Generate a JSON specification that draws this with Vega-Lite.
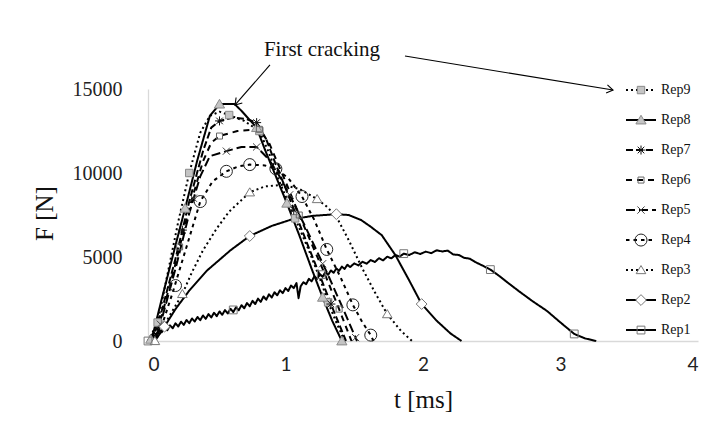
{
  "$schema": "https://vega.github.io/schema/vega-lite/v6.json",
  "width": 550,
  "height": 252,
  "autosize": {"type": "none"},
  "padding": {"left": 148, "top": 89, "right": 24, "bottom": 98},
  "background": "white",
  "config": {"view": {"stroke": null}, "font": "Liberation Serif"},
  "datasets": {
    "curves": [
      {"s":"Rep9","t":0,"F":0},{"s":"Rep9","t":0.07,"F":1100},{"s":"Rep9","t":0.15,"F":4300},{"s":"Rep9","t":0.22,"F":7100},{"s":"Rep9","t":0.3,"F":10000},{"s":"Rep9","t":0.38,"F":12400},{"s":"Rep9","t":0.45,"F":13400},{"s":"Rep9","t":0.52,"F":13650},{"s":"Rep9","t":0.59,"F":13450},{"s":"Rep9","t":0.7,"F":13100},{"s":"Rep9","t":0.81,"F":12500},{"s":"Rep9","t":0.88,"F":11200},{"s":"Rep9","t":0.95,"F":9600},{"s":"Rep9","t":1.07,"F":7300},{"s":"Rep9","t":1.17,"F":5400},{"s":"Rep9","t":1.26,"F":3500},{"s":"Rep9","t":1.31,"F":2300},{"s":"Rep9","t":1.37,"F":1100},{"s":"Rep9","t":1.43,"F":0},
      {"s":"Rep8","t":0,"F":0},{"s":"Rep8","t":0.03,"F":200},{"s":"Rep8","t":0.1,"F":2500},{"s":"Rep8","t":0.2,"F":5700},{"s":"Rep8","t":0.27,"F":7900},{"s":"Rep8","t":0.36,"F":10800},{"s":"Rep8","t":0.45,"F":13400},{"s":"Rep8","t":0.52,"F":14100},{"s":"Rep8","t":0.63,"F":14100},{"s":"Rep8","t":0.68,"F":13700},{"s":"Rep8","t":0.79,"F":12700},{"s":"Rep8","t":0.85,"F":11400},{"s":"Rep8","t":0.93,"F":9800},{"s":"Rep8","t":1.01,"F":8200},{"s":"Rep8","t":1.1,"F":6300},{"s":"Rep8","t":1.19,"F":4300},{"s":"Rep8","t":1.27,"F":2600},{"s":"Rep8","t":1.34,"F":1200},{"s":"Rep8","t":1.41,"F":0},
      {"s":"Rep7","t":0.03,"F":0},{"s":"Rep7","t":0.1,"F":1800},{"s":"Rep7","t":0.2,"F":4900},{"s":"Rep7","t":0.3,"F":8300},{"s":"Rep7","t":0.4,"F":11300},{"s":"Rep7","t":0.46,"F":12700},{"s":"Rep7","t":0.52,"F":13100},{"s":"Rep7","t":0.62,"F":13300},{"s":"Rep7","t":0.72,"F":13200},{"s":"Rep7","t":0.79,"F":13000},{"s":"Rep7","t":0.86,"F":12000},{"s":"Rep7","t":0.93,"F":10500},{"s":"Rep7","t":1.0,"F":9100},{"s":"Rep7","t":1.1,"F":7000},{"s":"Rep7","t":1.24,"F":4100},{"s":"Rep7","t":1.35,"F":1800},{"s":"Rep7","t":1.44,"F":0},
      {"s":"Rep6","t":0.04,"F":0},{"s":"Rep6","t":0.1,"F":1500},{"s":"Rep6","t":0.2,"F":4600},{"s":"Rep6","t":0.3,"F":7900},{"s":"Rep6","t":0.4,"F":10700},{"s":"Rep6","t":0.46,"F":11800},{"s":"Rep6","t":0.52,"F":12200},{"s":"Rep6","t":0.65,"F":12500},{"s":"Rep6","t":0.81,"F":12600},{"s":"Rep6","t":0.88,"F":11800},{"s":"Rep6","t":1.0,"F":9500},{"s":"Rep6","t":1.1,"F":7500},{"s":"Rep6","t":1.2,"F":5600},{"s":"Rep6","t":1.28,"F":4100},{"s":"Rep6","t":1.38,"F":2100},{"s":"Rep6","t":1.48,"F":0},
      {"s":"Rep5","t":0.05,"F":0},{"s":"Rep5","t":0.1,"F":1300},{"s":"Rep5","t":0.2,"F":4300},{"s":"Rep5","t":0.3,"F":7600},{"s":"Rep5","t":0.38,"F":9800},{"s":"Rep5","t":0.45,"F":11000},{"s":"Rep5","t":0.57,"F":11300},{"s":"Rep5","t":0.68,"F":11550},{"s":"Rep5","t":0.79,"F":11550},{"s":"Rep5","t":0.88,"F":10800},{"s":"Rep5","t":0.95,"F":9900},{"s":"Rep5","t":1.03,"F":8700},{"s":"Rep5","t":1.15,"F":6700},{"s":"Rep5","t":1.3,"F":4100},{"s":"Rep5","t":1.42,"F":1900},{"s":"Rep5","t":1.52,"F":0},
      {"s":"Rep4","t":0.05,"F":0},{"s":"Rep4","t":0.1,"F":900},{"s":"Rep4","t":0.18,"F":2900},{"s":"Rep4","t":0.28,"F":5600},{"s":"Rep4","t":0.38,"F":8300},{"s":"Rep4","t":0.47,"F":9500},{"s":"Rep4","t":0.57,"F":10100},{"s":"Rep4","t":0.66,"F":10400},{"s":"Rep4","t":0.74,"F":10500},{"s":"Rep4","t":0.85,"F":10450},{"s":"Rep4","t":0.93,"F":10250},{"s":"Rep4","t":1.02,"F":9700},{"s":"Rep4","t":1.12,"F":8600},{"s":"Rep4","t":1.21,"F":7200},{"s":"Rep4","t":1.3,"F":5450},{"s":"Rep4","t":1.4,"F":3800},{"s":"Rep4","t":1.49,"F":2150},{"s":"Rep4","t":1.56,"F":1100},{"s":"Rep4","t":1.62,"F":350},{"s":"Rep4","t":1.64,"F":0},
      {"s":"Rep3","t":0.05,"F":0},{"s":"Rep3","t":0.15,"F":1400},{"s":"Rep3","t":0.25,"F":2800},{"s":"Rep3","t":0.32,"F":4100},{"s":"Rep3","t":0.4,"F":5400},{"s":"Rep3","t":0.5,"F":6700},{"s":"Rep3","t":0.59,"F":7700},{"s":"Rep3","t":0.74,"F":8850},{"s":"Rep3","t":0.85,"F":9200},{"s":"Rep3","t":0.98,"F":9300},{"s":"Rep3","t":1.1,"F":9050},{"s":"Rep3","t":1.23,"F":8450},{"s":"Rep3","t":1.3,"F":8000},{"s":"Rep3","t":1.37,"F":7400},{"s":"Rep3","t":1.46,"F":6000},{"s":"Rep3","t":1.56,"F":4300},{"s":"Rep3","t":1.65,"F":2900},{"s":"Rep3","t":1.74,"F":1600},{"s":"Rep3","t":1.84,"F":600},{"s":"Rep3","t":1.92,"F":0},
      {"s":"Rep2","t":0.05,"F":0},{"s":"Rep2","t":0.1,"F":600},{"s":"Rep2","t":0.2,"F":1900},{"s":"Rep2","t":0.3,"F":3000},{"s":"Rep2","t":0.43,"F":4200},{"s":"Rep2","t":0.6,"F":5400},{"s":"Rep2","t":0.74,"F":6250},{"s":"Rep2","t":0.9,"F":6850},{"s":"Rep2","t":1.05,"F":7250},{"s":"Rep2","t":1.2,"F":7450},{"s":"Rep2","t":1.37,"F":7550},{"s":"Rep2","t":1.46,"F":7500},{"s":"Rep2","t":1.55,"F":7200},{"s":"Rep2","t":1.62,"F":6800},{"s":"Rep2","t":1.7,"F":6300},{"s":"Rep2","t":1.8,"F":5100},{"s":"Rep2","t":1.9,"F":3600},{"s":"Rep2","t":1.99,"F":2200},{"s":"Rep2","t":2.1,"F":1200},{"s":"Rep2","t":2.2,"F":450},{"s":"Rep2","t":2.28,"F":0},
      {"s":"Rep1","t":0,"F":0},{"s":"Rep1","t":0.02,"F":250},{"s":"Rep1","t":0.04,"F":500},{"s":"Rep1","t":0.06,"F":380},{"s":"Rep1","t":0.08,"F":700},{"s":"Rep1","t":0.1,"F":520},{"s":"Rep1","t":0.12,"F":820},{"s":"Rep1","t":0.14,"F":640},{"s":"Rep1","t":0.16,"F":930},{"s":"Rep1","t":0.18,"F":760},{"s":"Rep1","t":0.2,"F":1050},{"s":"Rep1","t":0.22,"F":860},{"s":"Rep1","t":0.24,"F":1150},{"s":"Rep1","t":0.26,"F":960},{"s":"Rep1","t":0.28,"F":1250},{"s":"Rep1","t":0.3,"F":1060},{"s":"Rep1","t":0.32,"F":1340},{"s":"Rep1","t":0.34,"F":1160},{"s":"Rep1","t":0.36,"F":1430},{"s":"Rep1","t":0.38,"F":1240},{"s":"Rep1","t":0.4,"F":1520},{"s":"Rep1","t":0.42,"F":1320},{"s":"Rep1","t":0.44,"F":1600},{"s":"Rep1","t":0.46,"F":1400},{"s":"Rep1","t":0.48,"F":1680},{"s":"Rep1","t":0.5,"F":1480},{"s":"Rep1","t":0.52,"F":1760},{"s":"Rep1","t":0.54,"F":1560},{"s":"Rep1","t":0.56,"F":1840},{"s":"Rep1","t":0.58,"F":1640},{"s":"Rep1","t":0.6,"F":1920},{"s":"Rep1","t":0.62,"F":1720},{"s":"Rep1","t":0.64,"F":2010},{"s":"Rep1","t":0.66,"F":1830},{"s":"Rep1","t":0.68,"F":2130},{"s":"Rep1","t":0.7,"F":1950},{"s":"Rep1","t":0.72,"F":2260},{"s":"Rep1","t":0.74,"F":2070},{"s":"Rep1","t":0.76,"F":2390},{"s":"Rep1","t":0.78,"F":2200},{"s":"Rep1","t":0.8,"F":2520},{"s":"Rep1","t":0.82,"F":2330},{"s":"Rep1","t":0.84,"F":2650},{"s":"Rep1","t":0.86,"F":2460},{"s":"Rep1","t":0.88,"F":2780},{"s":"Rep1","t":0.9,"F":2590},{"s":"Rep1","t":0.92,"F":2900},{"s":"Rep1","t":0.94,"F":2720},{"s":"Rep1","t":0.96,"F":3020},{"s":"Rep1","t":0.98,"F":2850},{"s":"Rep1","t":1.0,"F":3150},{"s":"Rep1","t":1.02,"F":2980},{"s":"Rep1","t":1.04,"F":3300},{"s":"Rep1","t":1.06,"F":3150},{"s":"Rep1","t":1.08,"F":3450},{"s":"Rep1","t":1.095,"F":2550},{"s":"Rep1","t":1.11,"F":3250},{"s":"Rep1","t":1.13,"F":3500},{"s":"Rep1","t":1.15,"F":3380},{"s":"Rep1","t":1.17,"F":3700},{"s":"Rep1","t":1.19,"F":3550},{"s":"Rep1","t":1.21,"F":3850},{"s":"Rep1","t":1.23,"F":3700},{"s":"Rep1","t":1.25,"F":3980},{"s":"Rep1","t":1.27,"F":3820},{"s":"Rep1","t":1.29,"F":4100},{"s":"Rep1","t":1.31,"F":3940},{"s":"Rep1","t":1.33,"F":4200},{"s":"Rep1","t":1.35,"F":4060},{"s":"Rep1","t":1.37,"F":4320},{"s":"Rep1","t":1.39,"F":4180},{"s":"Rep1","t":1.41,"F":4430},{"s":"Rep1","t":1.43,"F":4290},{"s":"Rep1","t":1.45,"F":4540},{"s":"Rep1","t":1.47,"F":4400},{"s":"Rep1","t":1.5,"F":4620},{"s":"Rep1","t":1.53,"F":4500},{"s":"Rep1","t":1.56,"F":4720},{"s":"Rep1","t":1.59,"F":4600},{"s":"Rep1","t":1.62,"F":4820},{"s":"Rep1","t":1.65,"F":4700},{"s":"Rep1","t":1.68,"F":4930},{"s":"Rep1","t":1.71,"F":4800},{"s":"Rep1","t":1.74,"F":5020},{"s":"Rep1","t":1.77,"F":4920},{"s":"Rep1","t":1.8,"F":5120},{"s":"Rep1","t":1.83,"F":5020},{"s":"Rep1","t":1.86,"F":5200},{"s":"Rep1","t":1.9,"F":5120},{"s":"Rep1","t":1.94,"F":5280},{"s":"Rep1","t":1.98,"F":5180},{"s":"Rep1","t":2.02,"F":5320},{"s":"Rep1","t":2.06,"F":5230},{"s":"Rep1","t":2.1,"F":5400},{"s":"Rep1","t":2.14,"F":5330},{"s":"Rep1","t":2.18,"F":5380},{"s":"Rep1","t":2.22,"F":5150},{"s":"Rep1","t":2.26,"F":5120},{"s":"Rep1","t":2.3,"F":4950},{"s":"Rep1","t":2.34,"F":4900},{"s":"Rep1","t":2.38,"F":4700},{"s":"Rep1","t":2.43,"F":4500},{"s":"Rep1","t":2.49,"F":4250},{"s":"Rep1","t":2.55,"F":3900},{"s":"Rep1","t":2.62,"F":3450},{"s":"Rep1","t":2.7,"F":2950},{"s":"Rep1","t":2.8,"F":2350},{"s":"Rep1","t":2.9,"F":1800},{"s":"Rep1","t":3.0,"F":1100},{"s":"Rep1","t":3.1,"F":420},{"s":"Rep1","t":3.18,"F":150},{"s":"Rep1","t":3.26,"F":0}
    ],
    "markers": [
      {"s":"Rep9","t":0.07,"F":1100},{"s":"Rep9","t":0.3,"F":10000},{"s":"Rep9","t":0.59,"F":13450},{"s":"Rep9","t":0.81,"F":12500},{"s":"Rep9","t":1.07,"F":7300},{"s":"Rep9","t":1.31,"F":2300},
      {"s":"Rep8","t":0.02,"F":100},{"s":"Rep8","t":0.27,"F":7900},{"s":"Rep8","t":0.52,"F":14100},{"s":"Rep8","t":0.79,"F":12700},{"s":"Rep8","t":1.01,"F":8200},{"s":"Rep8","t":1.27,"F":2600},{"s":"Rep8","t":1.41,"F":0},
      {"s":"Rep7","t":0.25,"F":6600},{"s":"Rep7","t":0.52,"F":13100},{"s":"Rep7","t":0.79,"F":13000},{"s":"Rep7","t":1.06,"F":7800},{"s":"Rep7","t":1.33,"F":2200},
      {"s":"Rep6","t":0.23,"F":5600},{"s":"Rep6","t":0.52,"F":12200},{"s":"Rep6","t":0.81,"F":12600},{"s":"Rep6","t":1.1,"F":7500},{"s":"Rep6","t":1.39,"F":1900},
      {"s":"Rep5","t":0.09,"F":1000},{"s":"Rep5","t":0.33,"F":8500},{"s":"Rep5","t":0.57,"F":11300},{"s":"Rep5","t":0.79,"F":11550},{"s":"Rep5","t":1.03,"F":8700},{"s":"Rep5","t":1.27,"F":4600},{"s":"Rep5","t":1.51,"F":200},
      {"s":"Rep4","t":0.2,"F":3300},{"s":"Rep4","t":0.38,"F":8300},{"s":"Rep4","t":0.57,"F":10100},{"s":"Rep4","t":0.74,"F":10500},{"s":"Rep4","t":0.93,"F":10250},{"s":"Rep4","t":1.12,"F":8600},{"s":"Rep4","t":1.3,"F":5450},{"s":"Rep4","t":1.49,"F":2150},{"s":"Rep4","t":1.62,"F":350},
      {"s":"Rep3","t":0.05,"F":0},{"s":"Rep3","t":0.25,"F":2800},{"s":"Rep3","t":0.74,"F":8850},{"s":"Rep3","t":1.23,"F":8450},{"s":"Rep3","t":1.74,"F":1600},
      {"s":"Rep2","t":0.12,"F":850},{"s":"Rep2","t":0.74,"F":6250},{"s":"Rep2","t":1.37,"F":7550},{"s":"Rep2","t":1.99,"F":2200},
      {"s":"Rep1","t":0,"F":0},{"s":"Rep1","t":0.62,"F":1850},{"s":"Rep1","t":1.26,"F":3950},{"s":"Rep1","t":1.86,"F":5200},{"s":"Rep1","t":2.49,"F":4250},{"s":"Rep1","t":3.1,"F":420}
    ],
    "arrows": [
      {"t":0.887,"F":16430,"t2":0.633,"F2":14050},
      {"t":1.869,"F":16960,"t2":3.382,"F2":14940}
    ],
    "notes": [
      {"label":"First cracking","t":1.265,"F":17320}
    ]
  },
  "layer": [
    {
      "data": {"name": "curves"},
      "mark": {"type": "line", "color": "black", "strokeCap": "butt", "strokeJoin": "round"},
      "encoding": {
        "x": {"field": "t", "type": "quantitative",
          "scale": {"domain": [0, 4], "nice": false},
          "axis": {"values": [0,1,2,3,4], "format": "d", "grid": false, "ticks": false, "tickSize": 0,
            "domainColor": "#d9d9d9", "domainWidth": 1.3,
            "labelFont": "Lato", "labelFontSize": 19, "labelColor": "#222", "labelPadding": 14,
            "title": "t [ms]", "titleFont": "Liberation Serif", "titleFontSize": 25, "titleFontWeight": "normal", "titleColor": "#111",
            "titleY": 58, "titleBaseline": "middle"}},
        "y": {"field": "F", "type": "quantitative",
          "scale": {"domain": [0, 15000], "nice": false},
          "axis": {"values": [0,5000,10000,15000], "format": "d", "grid": false, "ticks": false, "tickSize": 0,
            "domainColor": "#d9d9d9", "domainWidth": 1.3,
            "labelFont": "Liberation Serif", "labelFontSize": 20, "labelColor": "#222", "labelPadding": 26,
            "title": "F [N]", "titleFont": "Liberation Serif", "titleFontSize": 25, "titleFontWeight": "normal", "titleColor": "#111",
            "titleX": -104, "titleY": 124, "titleAngle": -90, "titleBaseline": "middle", "titleAlign": "center"}},
        "strokeDash": {"field": "s", "type": "nominal",
          "scale": {"domain": ["Rep9","Rep8","Rep7","Rep6","Rep5","Rep4","Rep3","Rep2","Rep1"],
            "range": [[2,3],[1,0],[7,3],[6,5],[9,4],[3.5,4],[2,3],[1,0],[1,0]]},
          "legend": {"orient": "none", "legendX": 477, "legendY": -13.5, "title": null, "symbolType": "stroke", "symbolSize": 900,
            "symbolStrokeColor": "black", "clipHeight": 29.1, "rowPadding": 0, "padding": 0,
            "labelFont": "Liberation Serif", "labelFontSize": 14, "labelColor": "#111", "labelOffset": 4}},
        "strokeWidth": {"field": "s", "type": "nominal",
          "scale": {"domain": ["Rep9","Rep8","Rep7","Rep6","Rep5","Rep4","Rep3","Rep2","Rep1"],
            "range": [2, 2, 2.5, 2, 2.5, 3.5, 1.6, 1.6, 2.2]},
          "legend": {"orient": "none", "legendX": 477, "legendY": -13.5, "title": null, "symbolType": "stroke", "symbolSize": 900,
            "symbolStrokeColor": "black", "clipHeight": 29.1, "rowPadding": 0, "padding": 0,
            "labelFont": "Liberation Serif", "labelFontSize": 14, "labelColor": "#111", "labelOffset": 4}}
      }
    },
    {
      "data": {"name": "markers"},
      "mark": {"type": "point", "size": 144, "strokeWidth": 1, "opacity": 1},
      "encoding": {
        "x": {"field": "t", "type": "quantitative"},
        "y": {"field": "F", "type": "quantitative"},
        "shape": {"field": "s", "type": "nominal", "sort": "descending",
          "scale": {"range": [
            "M-0.62,-0.62H0.62V0.62H-0.62Z",
            "M0,-0.8L0.85,0.65H-0.85Z",
            "M-0.75,0H0.75M0,-0.75V0.75M-0.55,-0.55L0.55,0.55M-0.55,0.55L0.55,-0.55",
            "M-0.5,-0.5H0.5V0.5H-0.5Z",
            "M-0.6,-0.6L0.6,0.6M-0.6,0.6L0.6,-0.6",
            "circle",
            "M0,-0.75L0.8,0.6H-0.8Z",
            "M0,-0.9L0.9,0L0,0.9L-0.9,0Z",
            "M-0.65,-0.65H0.65V0.65H-0.65Z"]},
          "legend": {"orient": "none", "legendX": 486, "legendY": -13.5, "title": null, "symbolSize": 144,
            "clipHeight": 29.1, "rowPadding": 0, "padding": 0, "labelExpr": "''", "labelOpacity": 0, "symbolStrokeWidth": 1,
            "labelFont": "Liberation Serif", "labelFontSize": 14}},
        "fill": {"field": "s", "type": "nominal", "sort": "descending",
          "scale": {"range": ["#c4c4c4","#c4c4c4","transparent","transparent","transparent","transparent","white","white","transparent"]},
          "legend": {"orient": "none", "legendX": 486, "legendY": -13.5, "title": null, "symbolSize": 144,
            "clipHeight": 29.1, "rowPadding": 0, "padding": 0, "labelExpr": "''", "labelOpacity": 0, "symbolStrokeWidth": 1,
            "labelFont": "Liberation Serif", "labelFontSize": 14}},
        "stroke": {"field": "s", "type": "nominal", "sort": "descending",
          "scale": {"range": ["#8a8a8a","#8a8a8a","#111111","#666666","#444444","#222222","#777777","#777777","#777777"]},
          "legend": {"orient": "none", "legendX": 486, "legendY": -13.5, "title": null, "symbolSize": 144,
            "clipHeight": 29.1, "rowPadding": 0, "padding": 0, "labelExpr": "''", "labelOpacity": 0, "symbolStrokeWidth": 1,
            "labelFont": "Liberation Serif", "labelFontSize": 14}}
      }
    },
    {
      "data": {"name": "arrows"},
      "mark": {"type": "rule", "color": "black", "strokeWidth": 1.1},
      "encoding": {
        "x": {"field": "t", "type": "quantitative"},
        "y": {"field": "F", "type": "quantitative"},
        "x2": {"field": "t2"},
        "y2": {"field": "F2"}
      }
    },
    {
      "data": {"name": "arrows"},
      "transform": [{"filter": "datum.t2 < 1"}],
      "mark": {"type": "point", "shape": "M-1,-0.65L0,0L-1,0.65", "angle": 131.2, "size": 160, "stroke": "black", "strokeWidth": 1.1, "filled": false, "opacity": 1},
      "encoding": {
        "x": {"field": "t2", "type": "quantitative"},
        "y": {"field": "F2", "type": "quantitative"}
      }
    },
    {
      "data": {"name": "arrows"},
      "transform": [{"filter": "datum.t2 > 1"}],
      "mark": {"type": "point", "shape": "M-1,-0.65L0,0L-1,0.65", "angle": 9.3, "size": 160, "stroke": "black", "strokeWidth": 1.1, "filled": false, "opacity": 1},
      "encoding": {
        "x": {"field": "t2", "type": "quantitative"},
        "y": {"field": "F2", "type": "quantitative"}
      }
    },
    {
      "data": {"name": "notes"},
      "mark": {"type": "text", "font": "Liberation Serif", "fontSize": 21, "color": "#111", "align": "center", "baseline": "middle"},
      "encoding": {
        "x": {"field": "t", "type": "quantitative"},
        "y": {"field": "F", "type": "quantitative"},
        "text": {"field": "label"}
      }
    }
  ]
}
